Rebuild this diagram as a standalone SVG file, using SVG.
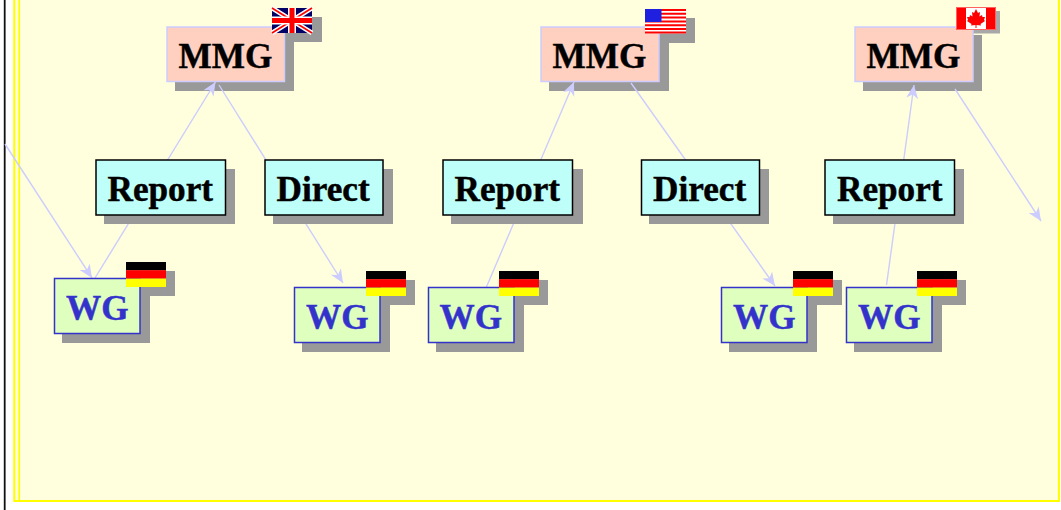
<svg xmlns="http://www.w3.org/2000/svg" width="1061" height="510" viewBox="0 0 1061 510">
<style>
text{font-family:"Liberation Serif","Times New Roman",serif;font-weight:bold;font-size:35.2px;fill:#000;stroke:#000;stroke-width:.45}
.sh{fill:#999}
.mmg{fill:#ffd0c0;stroke:#ccf;stroke-width:1.5}
.box{fill:#bffffa;stroke:#000;stroke-width:1.5}
.wg{fill:#dfffbf;stroke:#33c;stroke-width:1.5}
text.wgt{fill:#33c;stroke:#33c}
#connectors line{stroke:#ccf;stroke-width:1.4;fill:none}
.arr{marker-end:url(#ah)}
</style>
<defs>
<marker id="ah" markerUnits="userSpaceOnUse" markerWidth="15" markerHeight="14" refX="14" refY="7" orient="auto"><path d="M14,7 L0.5,1 L4.500,7 L0.5,13 Z" fill="#ccf"/></marker>
<g id="de"><rect width="40" height="8.4" fill="#000"/><rect y="8.2" width="40" height="8.4" fill="#f00"/><rect y="16.6" width="40" height="8.4" fill="#ff0"/></g>
<g id="uk"><rect width="40" height="25" fill="#006"/><path d="M0,0L40,25M40,0L0,25" stroke="#fff" stroke-width="5"/><path d="M0,0L40,25M40,0L0,25" stroke="#f00" stroke-width="1.6"/><path d="M20,0V25M0,12.5H40" stroke="#fff" stroke-width="8"/><path d="M20,0V25M0,12.5H40" stroke="#f00" stroke-width="5"/></g>
<g id="us"><rect width="41" height="24.500" fill="#fff"/><path d="M0,1H41M0,4.800H41M0,8.600H41M0,12.400H41M0,16.200H41M0,20H41M0,23.600H41" stroke="#f00" stroke-width="2"/><rect width="16.500" height="13" fill="#1f1fe0"/></g>
<g id="ca"><rect width="40" height="23" fill="#fff"/><rect width="10" height="23" fill="#f00"/><rect x="30" width="10" height="23" fill="#f00"/><rect x=".5" y=".5" width="39" height="22" fill="none" stroke="#ff6060"/><path d="M20,2 L22,6 L24,5 L23.5,9.5 L26,8 L26.5,10 L29,10 L28,13 L29,14 L24.5,17 L25,18.5 L20.5,18 L20.5,21 L19.5,21 L19.5,18 L15,18.5 L15.500,17 L11,14 L12,13 L11,10 L13.5,10 L14,8 L16.5,9.5 L16,5 L18,6 Z" fill="#f00"/></g>
</defs>
<rect x="13.500" y="0" width="1045.500" height="501" fill="#ffd"/>
<path d="M4.700,0V510" stroke="#111" stroke-width="1.800" fill="none"/>
<path d="M14.300,0V501H1059V0" stroke="#ff0" stroke-width="2" fill="none"/>
<path d="M19.200,0V501" stroke="#ff0" stroke-width="1.700" fill="none"/>
<g id="mmg-uk"><rect class="sh" x="175" y="35" width="119" height="56"/><rect class="sh" x="281" y="17" width="41" height="25"/><rect class="mmg" x="167" y="27" width="117.500" height="54.500"/><text x="178.500" y="68">MMG</text><use href="#uk" x="272" y="8"/></g>
<g id="mmg-us"><rect class="sh" x="549" y="35" width="120" height="56"/><rect class="sh" x="654" y="18" width="41" height="25"/><rect class="mmg" x="541" y="27" width="118" height="54.500"/><text x="552.500" y="68">MMG</text><use href="#us" x="645" y="9"/></g>
<g id="mmg-ca"><rect class="sh" x="863" y="35" width="119" height="56"/><rect x="961" y="11" width="39" height="22.500" fill="#a8a8a8"/><rect class="mmg" x="855" y="27" width="118" height="54.500"/><text x="866.500" y="68">MMG</text><use href="#ca" x="956" y="7"/></g>
<g id="connectors">
<line x1="95" y1="278" x2="215.500" y2="82" class="arr"/>
<line x1="219" y1="85" x2="343" y2="283" class="arr"/>
<line x1="5" y1="144" x2="92" y2="278" class="arr"/>
<line x1="486" y1="288" x2="574" y2="82" class="arr"/>
<line x1="631" y1="83" x2="775" y2="286" class="arr"/>
<line x1="886.500" y1="285" x2="914" y2="85" class="arr"/>
<line x1="955" y1="89" x2="1041" y2="221" class="arr"/>
</g>
<g id="report-1"><rect class="sh" x="104" y="169" width="131" height="55"/><rect class="box" x="96" y="160" width="129.500" height="55"/><text x="107.500" y="201">Report</text></g>
<g id="direct-1"><rect class="sh" x="273" y="169" width="120" height="55"/><rect class="box" x="265" y="160" width="118" height="55"/><text x="276.500" y="201">Direct</text></g>
<g id="report-2"><rect class="sh" x="451" y="169" width="132" height="55"/><rect class="box" x="443" y="160" width="129.500" height="55"/><text x="454.500" y="201">Report</text></g>
<g id="direct-2"><rect class="sh" x="649" y="169" width="120" height="55"/><rect class="box" x="641.500" y="160" width="118" height="55"/><text x="653" y="201">Direct</text></g>
<g id="report-3"><rect class="sh" x="833" y="169" width="131" height="55"/><rect class="box" x="825" y="160" width="129.500" height="55"/><text x="837" y="201">Report</text></g>
<g id="wg-1"><rect class="sh" x="62" y="287" width="88" height="56"/><rect class="sh" x="135" y="271" width="40" height="25"/><rect class="wg" x="54.500" y="278.500" width="85.500" height="55"/><text class="wgt" x="66" y="320">WG</text><use href="#de" x="126" y="262"/></g>
<g id="wg-2"><rect class="sh" x="302" y="297" width="88" height="55"/><rect class="sh" x="375" y="280" width="40" height="25"/><rect class="wg" x="294.500" y="287.500" width="85.500" height="55"/><text class="wgt" x="306" y="329">WG</text><use href="#de" x="366" y="271"/></g>
<g id="wg-3"><rect class="sh" x="436" y="297" width="88" height="55"/><rect class="sh" x="508" y="280" width="40" height="25"/><rect class="wg" x="428.500" y="287.500" width="85.500" height="55"/><text class="wgt" x="439.500" y="329">WG</text><use href="#de" x="499" y="271"/></g>
<g id="wg-4"><rect class="sh" x="729" y="297" width="88" height="55"/><rect class="sh" x="802" y="280" width="40" height="25"/><rect class="wg" x="721.500" y="287.500" width="85.500" height="55"/><text class="wgt" x="733" y="329">WG</text><use href="#de" x="793" y="271"/></g>
<g id="wg-5"><rect class="sh" x="854" y="297" width="88" height="55"/><rect class="sh" x="926" y="280" width="40" height="25"/><rect class="wg" x="846.500" y="287.500" width="85.500" height="55"/><text class="wgt" x="858" y="329">WG</text><use href="#de" x="917" y="271"/></g>
</svg>
